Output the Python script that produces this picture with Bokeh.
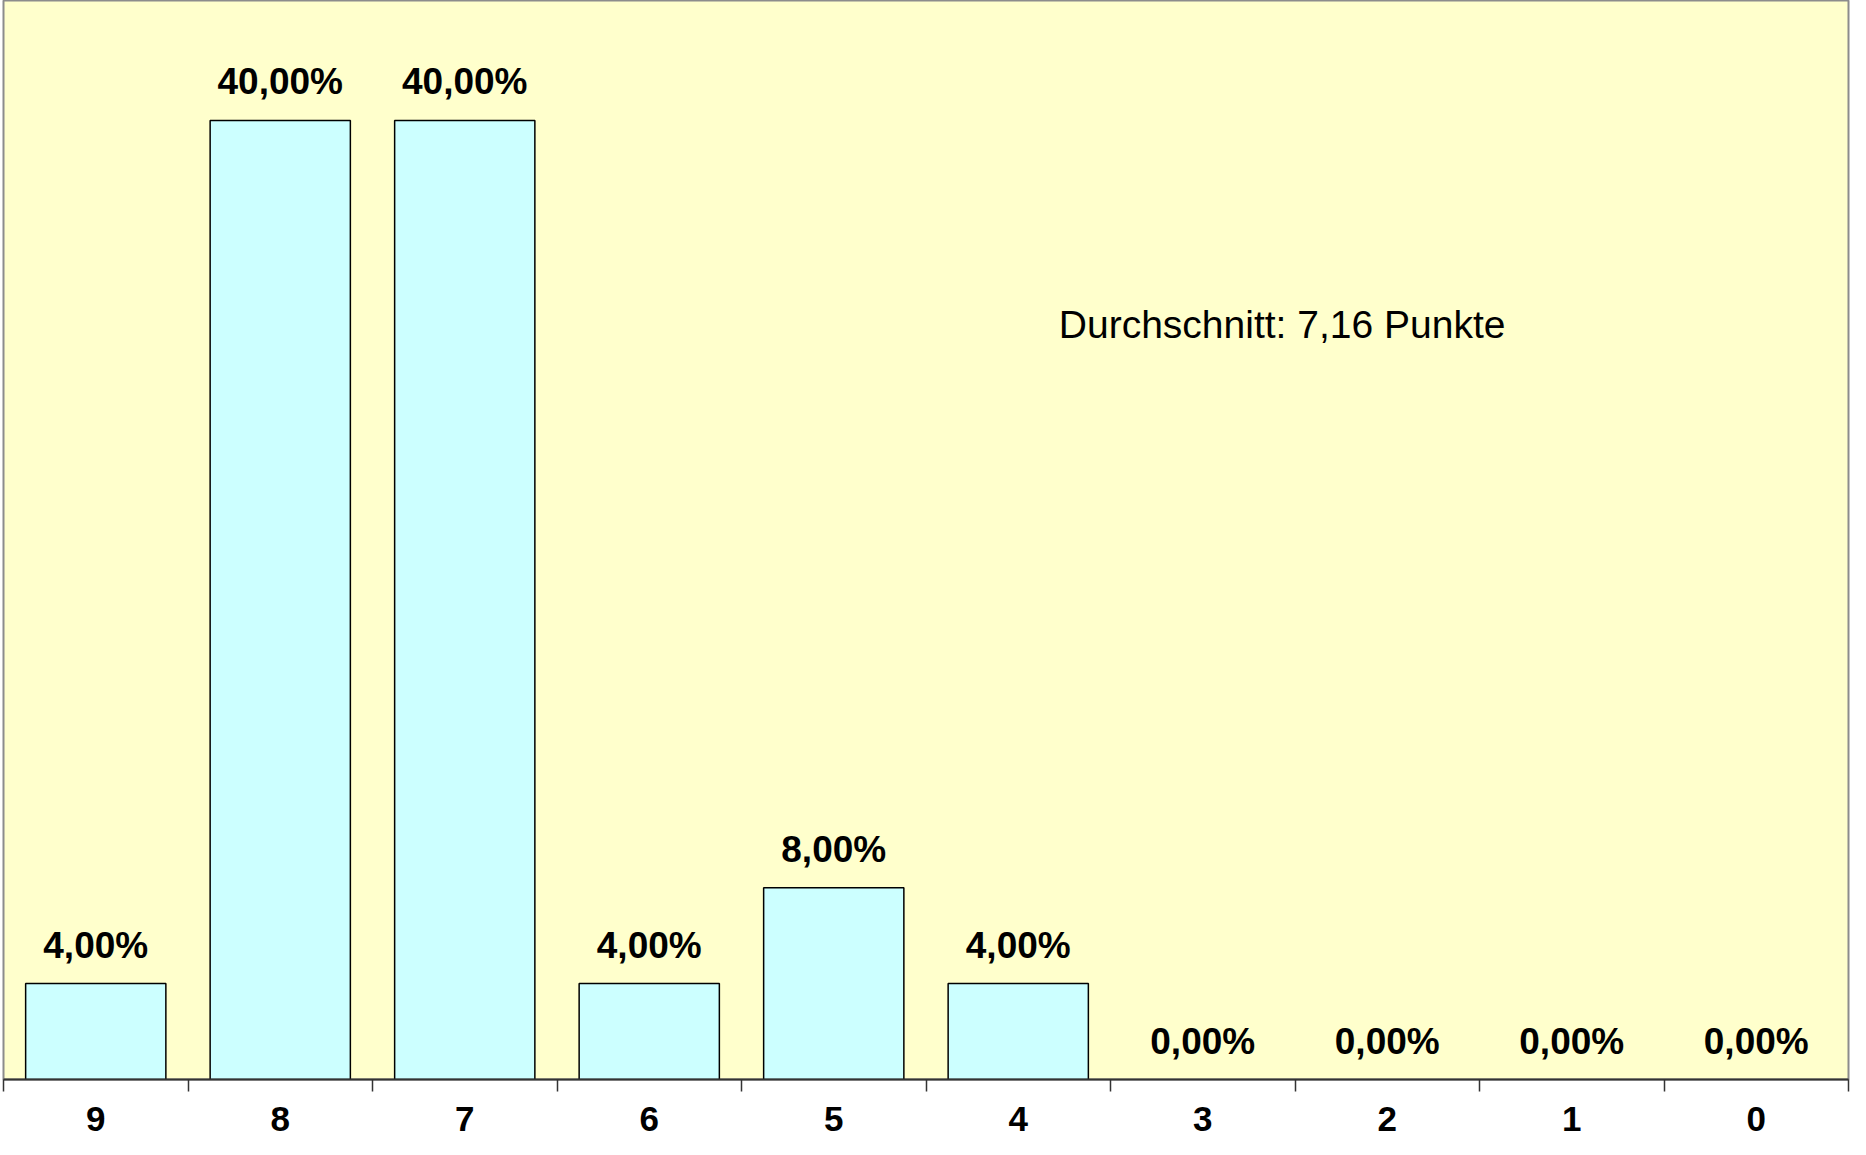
from bokeh.plotting import figure
from bokeh.models import ColumnDataSource, LabelSet, Label, Range1d, FixedTicker, LinearAxis, CDSView, BooleanFilter
from bokeh.core.properties import value
from bokeh.embed import file_html
from bokeh.resources import INLINE
import numpy as np

categories = ["9", "8", "7", "6", "5", "4", "3", "2", "1", "0"]
percentages = [4.0, 40.0, 40.0, 4.0, 8.0, 4.0, 0.0, 0.0, 0.0, 0.0]
average_text = "Durchschnitt: 7,16 Punkte"

x_pos = np.arange(len(categories)) + 0.5
labels = [f"{v:.2f}%".replace(".", ",") for v in percentages]

src = ColumnDataSource(dict(x=x_pos, top=percentages, label=labels))
nonzero = CDSView(filter=BooleanFilter([v > 0 for v in percentages]))

p = figure(width=1850, height=1139, output_backend="svg", toolbar_location=None,
           x_range=Range1d(0, len(categories)), y_range=Range1d(0, 45),
           x_axis_location=None, y_axis_location=None,
           min_border_left=3, min_border_right=2, min_border_top=0, min_border_bottom=0)
p.background_fill_color = "#FFFFCC"
p.border_fill_color = "white"
p.outline_line_color = "#8c8c8c"
p.outline_line_width = 2
p.xgrid.visible = False
p.ygrid.visible = False

p.vbar(x="x", top="top", bottom=0, width=0.76, source=src, view=nonzero,
       fill_color="#CCFFFF", line_color="black", line_width=1.5)

p.add_layout(LabelSet(x="x", y="top", text="label", source=src, y_offset=26,
                      text_align="center", text_baseline="alphabetic",
                      text_font=value("Liberation Sans"), text_font_style="bold",
                      text_font_size="37px", text_color="black"))

p.add_layout(Label(x=5.72, y=31.5, text=average_text, text_align="left",
                   text_baseline="alphabetic", text_font="Liberation Sans",
                   text_font_size="39px", text_color="black"))

xaxis = LinearAxis(
    ticker=FixedTicker(ticks=list(x_pos), minor_ticks=list(range(len(categories) + 1))),
    major_label_overrides={float(x): c for x, c in zip(x_pos, categories)},
    major_tick_out=0, major_tick_in=0,
    minor_tick_out=12, minor_tick_in=0,
    minor_tick_line_color="#333333", minor_tick_line_width=1.5,
    axis_line_color="#333333", axis_line_width=2,
    major_label_standoff=15,
    major_label_text_font="Liberation Sans", major_label_text_font_style="bold",
    major_label_text_font_size="35px", major_label_text_color="black",
    axis_label=" ", axis_label_text_font_size="3px", axis_label_standoff=0,
)
p.add_layout(xaxis, "below")

open("out.html", "w").write(file_html(p, INLINE))
